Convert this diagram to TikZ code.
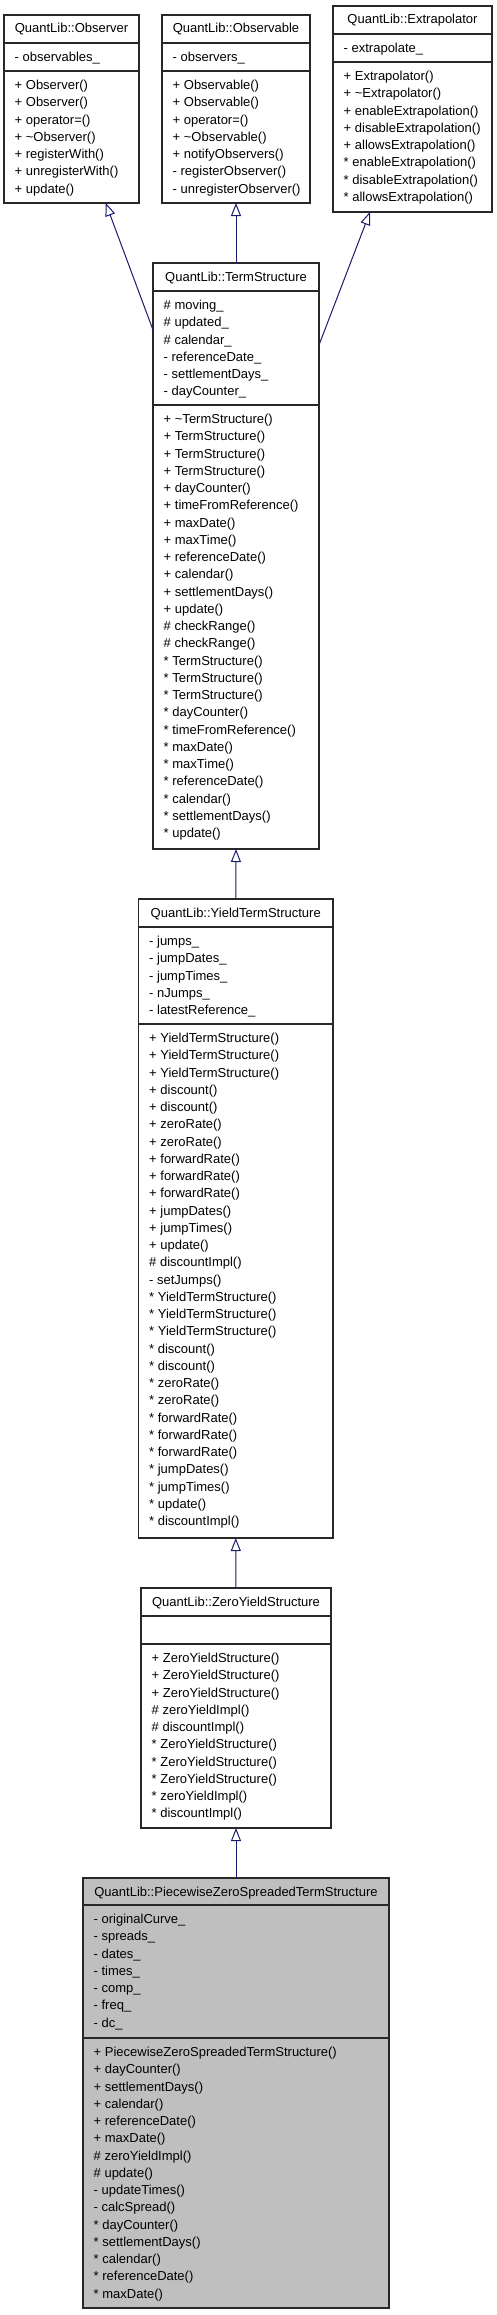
\documentclass[tikz,border=0pt]{standalone}
\usepackage{fontspec}
\setmainfont{Liberation Sans}
\usetikzlibrary{arrows.meta,calc}
\definecolor{edgeblue}{RGB}{25,25,112}
\definecolor{hilite}{RGB}{191,191,191}
\definecolor{boxline}{RGB}{40,40,40}
\newcommand\umllines[4]{\foreach \t [count=\i from 0] in {#4}{\node[umltxt] (#1-\i) at (#2,{#3+\i*17.25}) {\t};}}
\begin{document}
\begin{tikzpicture}[x=1pt,y=-1pt,
  umlbox/.style={draw=boxline, line width=1.1pt, fill=white, anchor=north west, inner sep=0pt, outer sep=0pt},
  sepline/.style={draw=boxline, line width=1.1pt},
  umltxt/.style={anchor=base west, inner sep=0pt, font=\fontsize{13}{15}\selectfont},
  umltitle/.style={anchor=base, inner sep=0pt, font=\fontsize{13}{15}\selectfont},
  inh/.style={draw=edgeblue, line width=1pt, -{Triangle[open, length=13pt, width=10pt]}}]
\useasboundingbox (0,0) rectangle (496,2315);

% Observer
\node[umlbox, minimum width=135pt, minimum height=188pt] (obs) at (4,15) {};
\draw[sepline] (4,43) -- (139,43);
\draw[sepline] (4,71) -- (139,71);
\node[umltitle] (obs-t) at (71.5,33) {QuantLib::Observer};
\umllines{obs-a}{14.5}{61.5}{- observables\_}
\umllines{obs-m}{14.5}{89.5}{+ Observer(), + Observer(), + operator=(), + \textasciitilde Observer(), + registerWith(), + unregisterWith(), + update()}

% Observable
\node[umlbox, minimum width=148pt, minimum height=188pt] (obsv) at (162,15) {};
\draw[sepline] (162,43) -- (310,43);
\draw[sepline] (162,71) -- (310,71);
\node[umltitle] (obsv-t) at (236,33) {QuantLib::Observable};
\umllines{obsv-a}{172.5}{61.5}{- observers\_}
\umllines{obsv-m}{172.5}{89.5}{+ Observable(), + Observable(), + operator=(), + \textasciitilde Observable(), + notifyObservers(), - registerObserver(), - unregisterObserver()}

% Extrapolator
\node[umlbox, minimum width=159pt, minimum height=206pt] (ext) at (333,6) {};
\draw[sepline] (333,34) -- (492,34);
\draw[sepline] (333,62) -- (492,62);
\node[umltitle] (ext-t) at (412.5,24) {QuantLib::Extrapolator};
\umllines{ext-a}{343.5}{52.5}{- extrapolate\_}
\umllines{ext-m}{343.5}{80.5}{+ Extrapolator(), + \textasciitilde Extrapolator(), + enableExtrapolation(), + disableExtrapolation(), + allowsExtrapolation(), * enableExtrapolation(), * disableExtrapolation(), * allowsExtrapolation()}

% TermStructure
\node[umlbox, minimum width=166pt, minimum height=586pt] (ts) at (153,263) {};
\draw[sepline] (153,291) -- (319,291);
\draw[sepline] (153,405) -- (319,405);
\node[umltitle] (ts-t) at (236,281) {QuantLib::TermStructure};
\umllines{ts-a}{163.5}{309.5}{\# moving\_, \# updated\_, \# calendar\_, - referenceDate\_, - settlementDays\_, - dayCounter\_}
\umllines{ts-m}{163.5}{423.5}{+ \textasciitilde TermStructure(), + TermStructure(), + TermStructure(), + TermStructure(), + dayCounter(), + timeFromReference(), + maxDate(), + maxTime(), + referenceDate(), + calendar(), + settlementDays(), + update(), \# checkRange(), \# checkRange(), * TermStructure(), * TermStructure(), * TermStructure(), * dayCounter(), * timeFromReference(), * maxDate(), * maxTime(), * referenceDate(), * calendar(), * settlementDays(), * update()}

% YieldTermStructure
\node[umlbox, minimum width=194.5pt, minimum height=639pt] (yts) at (138.5,899) {};
\draw[sepline] (138.5,927) -- (333,927);
\draw[sepline] (138.5,1024) -- (333,1024);
\node[umltitle] (yts-t) at (235.75,917) {QuantLib::YieldTermStructure};
\umllines{yts-a}{149}{945.5}{- jumps\_, - jumpDates\_, - jumpTimes\_, - nJumps\_, - latestReference\_}
\umllines{yts-m}{149}{1042.5}{+ YieldTermStructure(), + YieldTermStructure(), + YieldTermStructure(), + discount(), + discount(), + zeroRate(), + zeroRate(), + forwardRate(), + forwardRate(), + forwardRate(), + jumpDates(), + jumpTimes(), + update(), \# discountImpl(), - setJumps(), * YieldTermStructure(), * YieldTermStructure(), * YieldTermStructure(), * discount(), * discount(), * zeroRate(), * zeroRate(), * forwardRate(), * forwardRate(), * forwardRate(), * jumpDates(), * jumpTimes(), * update(), * discountImpl()}

% ZeroYieldStructure
\node[umlbox, minimum width=190pt, minimum height=240pt] (zys) at (141,1588) {};
\draw[sepline] (141,1616) -- (331,1616);
\draw[sepline] (141,1644) -- (331,1644);
\node[umltitle] (zys-t) at (236,1606) {QuantLib::ZeroYieldStructure};
\umllines{zys-m}{151.5}{1662.5}{+ ZeroYieldStructure(), + ZeroYieldStructure(), + ZeroYieldStructure(), \# zeroYieldImpl(), \# discountImpl(), * ZeroYieldStructure(), * ZeroYieldStructure(), * ZeroYieldStructure(), * zeroYieldImpl(), * discountImpl()}

% PiecewiseZeroSpreadedTermStructure
\node[umlbox, fill=hilite, minimum width=306pt, minimum height=430pt] (pzs) at (83,1878) {};
\draw[sepline] (83,1905) -- (389,1905);
\draw[sepline] (83,2038) -- (389,2038);
\node[umltitle] (pzs-t) at (236,1896) {QuantLib::PiecewiseZeroSpreadedTermStructure};
\umllines{pzs-a}{93.5}{1923.5}{- originalCurve\_, - spreads\_, - dates\_, - times\_, - comp\_, - freq\_, - dc\_}
\umllines{pzs-m}{93.5}{2056.5}{+ PiecewiseZeroSpreadedTermStructure(), + dayCounter(), + settlementDays(), + calendar(), + referenceDate(), + maxDate(), \# zeroYieldImpl(), \# update(), - updateTimes(), - calcSpread(), * dayCounter(), * settlementDays(), * calendar(), * referenceDate(), * maxDate()}

% inheritance connectors
\draw[inh] ($(ts.north west)+(0,67)$) -- ($(obs.south west)+(101.7,0)$);
\draw[inh] (ts.north) -- (obsv.south);
\draw[inh] ($(ts.north east)+(0,82)$) -- ($(ext.south west)+(37,0)$);
\draw[inh] (yts.north) -- (ts.south);
\draw[inh] (zys.north) -- (yts.south);
\draw[inh] (pzs.north) -- (zys.south);
\end{tikzpicture}
\end{document}
